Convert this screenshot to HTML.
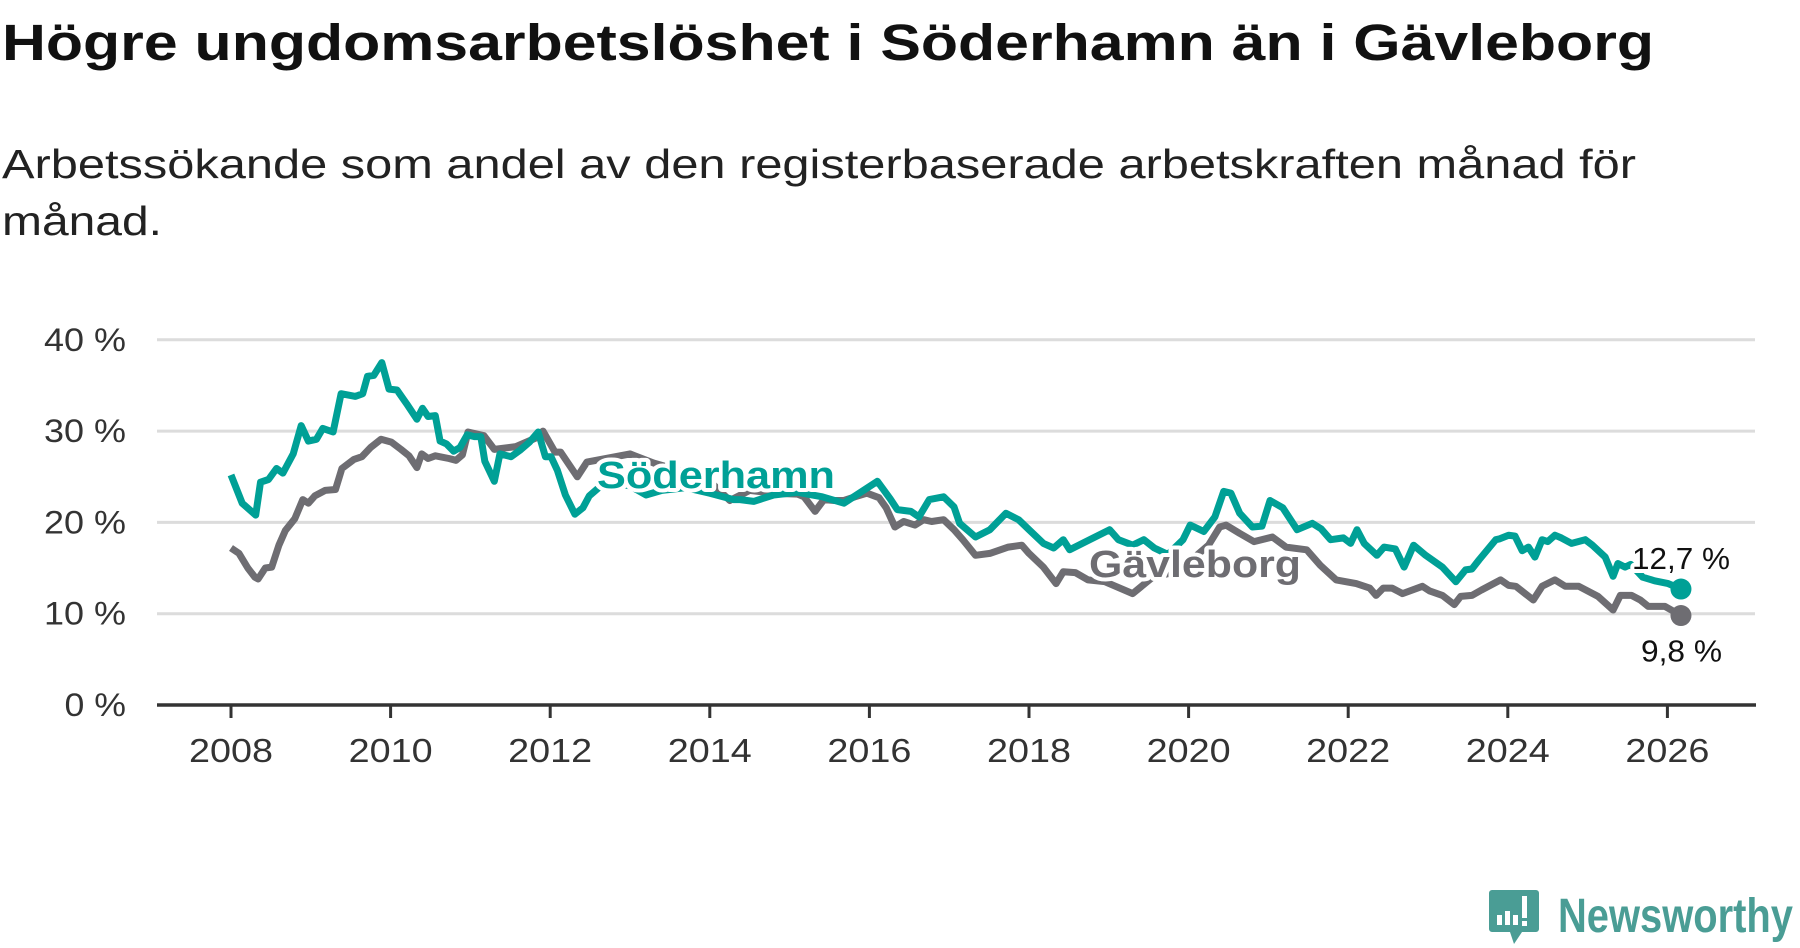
<!DOCTYPE html>
<html><head><meta charset="utf-8">
<style>
html,body{margin:0;padding:0;background:#fff;}
svg{display:block;font-family:"Liberation Sans","DejaVu Sans",sans-serif;}
</style></head>
<body>
<svg id="chart" width="1800" height="948" viewBox="0 0 1800 948" xmlns="http://www.w3.org/2000/svg">
<text x="2" y="60" font-size="51" font-weight="bold" fill="#111" textLength="1652" lengthAdjust="spacingAndGlyphs">Högre ungdomsarbetslöshet i Söderhamn än i Gävleborg</text>
<text x="2" y="178" font-size="41" fill="#222" textLength="1634" lengthAdjust="spacingAndGlyphs">Arbetssökande som andel av den registerbaserade arbetskraften månad för</text>
<text x="2" y="235" font-size="41" fill="#222" textLength="160" lengthAdjust="spacingAndGlyphs">månad.</text>
<g id="grid"></g>
<g id="yticks"></g>
<g id="xticks"></g>
<g id="series"></g>
<g id="labels"></g>
<g>
  <path d="M1492 890 h44 a3 3 0 0 1 3 3 v36 a3 3 0 0 1 -3 3 h-14 l-8 12 l-4 -12 h-18 a3 3 0 0 1 -3 -3 v-36 a3 3 0 0 1 3 -3z" fill="#4a9d95"/>
  <rect x="1497" y="915" width="5" height="10" fill="#fff"/>
  <rect x="1505" y="911" width="5" height="14" fill="#fff"/>
  <rect x="1513" y="915" width="5" height="10" fill="#fff"/>
  <rect x="1522" y="896" width="5" height="22" fill="#fff"/>
  <rect x="1522" y="921" width="5" height="5" fill="#fff"/>
  <text x="1558" y="932" font-size="48" font-weight="bold" fill="#4a9d95" textLength="235" lengthAdjust="spacingAndGlyphs">Newsworthy</text>
</g>
</svg>
<script>
const yTicks = [0, 10, 20, 30, 40];
const yTickLabels = ["0 %", "10 %", "20 %", "30 %", "40 %"];
const xTicks = [2008, 2010, 2012, 2014, 2016, 2018, 2020, 2022, 2024, 2026];
const sodDates = [2008.00,2008.14,2008.31,2008.37,2008.47,2008.57,2008.65,2008.78,2008.88,2008.97,2009.07,2009.15,2009.28,2009.38,2009.56,2009.65,2009.71,2009.79,2009.89,2009.98,2010.08,2010.20,2010.33,2010.40,2010.47,2010.56,2010.62,2010.70,2010.79,2010.87,2010.96,2011.05,2011.13,2011.18,2011.30,2011.37,2011.51,2011.62,2011.74,2011.85,2011.94,2012.01,2012.09,2012.19,2012.31,2012.41,2012.49,2012.70,2013.00,2013.20,2013.40,2013.70,2014.00,2014.30,2014.38,2014.55,2014.80,2015.10,2015.41,2015.68,2016.10,2016.26,2016.35,2016.52,2016.62,2016.75,2016.93,2017.06,2017.13,2017.33,2017.51,2017.71,2017.87,2018.00,2018.18,2018.31,2018.43,2018.51,2018.76,2019.01,2019.12,2019.30,2019.44,2019.57,2019.74,2019.93,2020.02,2020.19,2020.33,2020.44,2020.53,2020.64,2020.80,2020.92,2021.02,2021.18,2021.36,2021.55,2021.66,2021.78,2021.94,2022.03,2022.11,2022.20,2022.36,2022.45,2022.59,2022.70,2022.82,2022.97,2023.18,2023.35,2023.47,2023.55,2023.64,2023.85,2023.90,2024.01,2024.09,2024.18,2024.26,2024.34,2024.43,2024.50,2024.59,2024.67,2024.80,2024.97,2025.06,2025.22,2025.32,2025.38,2025.47,2025.54,2025.69,2025.84,2026.01,2026.17];
const sodValues = [25.2,22.1,20.8,24.4,24.7,25.9,25.4,27.5,30.6,28.9,29.1,30.3,29.9,34.1,33.8,34.1,36.0,36.1,37.5,34.6,34.5,33.0,31.3,32.5,31.6,31.7,28.9,28.6,27.8,28.2,29.6,29.4,29.4,26.7,24.5,27.5,27.2,27.9,28.8,29.9,27.2,27.2,25.7,23.0,20.9,21.6,22.9,24.5,24.0,23.0,23.5,23.8,23.2,22.5,22.5,22.3,23.0,23.3,22.8,22.1,24.5,22.6,21.4,21.2,20.6,22.5,22.8,21.7,19.9,18.4,19.2,21.0,20.3,19.2,17.7,17.2,18.1,17.0,18.1,19.2,18.1,17.5,18.1,17.2,16.5,18.1,19.7,19.0,20.6,23.4,23.2,21.0,19.5,19.6,22.4,21.6,19.2,19.9,19.3,18.1,18.3,17.7,19.2,17.7,16.4,17.3,17.1,15.1,17.5,16.4,15.1,13.5,14.8,14.9,15.9,18.1,18.2,18.6,18.5,16.9,17.3,16.2,18.1,17.9,18.6,18.3,17.7,18.1,17.5,16.2,14.1,15.5,15.1,15.4,14.0,13.6,13.3,12.7];
const gavDates = [2008.00,2008.10,2008.21,2008.30,2008.34,2008.43,2008.51,2008.60,2008.68,2008.80,2008.90,2008.97,2009.05,2009.18,2009.31,2009.39,2009.54,2009.64,2009.75,2009.88,2010.01,2010.13,2010.23,2010.33,2010.39,2010.47,2010.56,2010.73,2010.82,2010.90,2010.97,2011.17,2011.30,2011.57,2011.81,2011.91,2012.06,2012.13,2012.34,2012.46,2012.70,2013.00,2013.30,2013.70,2014.00,2014.25,2014.50,2014.80,2015.10,2015.18,2015.32,2015.43,2015.56,2015.68,2015.82,2015.97,2016.12,2016.21,2016.32,2016.43,2016.57,2016.68,2016.78,2016.93,2017.06,2017.17,2017.33,2017.51,2017.74,2017.91,2018.00,2018.18,2018.34,2018.43,2018.58,2018.74,2018.95,2019.30,2019.55,2019.80,2020.05,2020.25,2020.39,2020.47,2020.64,2020.82,2021.05,2021.22,2021.48,2021.65,2021.85,2022.10,2022.27,2022.35,2022.44,2022.55,2022.68,2022.93,2023.02,2023.18,2023.33,2023.41,2023.55,2023.67,2023.91,2024.01,2024.10,2024.32,2024.43,2024.59,2024.72,2024.89,2025.13,2025.32,2025.41,2025.55,2025.66,2025.76,2025.97,2026.17];
const gavValues = [17.2,16.6,15.0,14.0,13.8,15.0,15.1,17.5,19.1,20.4,22.5,22.1,22.9,23.5,23.6,25.9,26.9,27.2,28.2,29.1,28.8,28.0,27.3,26.0,27.5,27.0,27.3,27.0,26.8,27.4,29.9,29.5,28.0,28.3,29.2,30.0,27.7,27.7,25.0,26.6,27.0,27.5,26.5,25.5,24.5,22.4,23.5,23.2,23.1,22.8,21.2,22.5,22.4,22.4,22.8,23.2,22.7,21.6,19.5,20.1,19.7,20.3,20.1,20.3,19.2,18.1,16.4,16.6,17.3,17.5,16.6,15.1,13.3,14.6,14.5,13.7,13.5,12.2,14.0,14.5,16.0,17.5,19.5,19.7,18.8,17.9,18.4,17.3,17.0,15.3,13.7,13.3,12.8,12.0,12.8,12.8,12.2,13.0,12.5,12.0,11.0,11.9,12.0,12.6,13.7,13.1,13.0,11.5,13.0,13.7,13.0,13.0,11.9,10.4,12.0,12.0,11.5,10.8,10.8,9.8];
const endLabels = ["12,7 %", "9,8 %"];

const NS = "http://www.w3.org/2000/svg";
const X0 = 231, XPER = 79.8, Y0 = 705, YPER = 9.13;
function xs(t){ return X0 + (t - 2008) * XPER; }
function ys(v){ return Y0 - v * YPER; }
function mk(tag, attrs, parent){
  const e = document.createElementNS(NS, tag);
  for (const k in attrs) e.setAttribute(k, attrs[k]);
  parent.appendChild(e);
  return e;
}
const grid = document.getElementById('grid');
const yt = document.getElementById('yticks');
yTicks.forEach((v, i) => {
  if (v > 0) {
    const g = mk('line', {x1:157, x2:1755, y1:ys(v), y2:ys(v), stroke:'#dcdcdc', 'stroke-width':3}, grid);
    
    
  }
  const lbl = yTickLabels[i];
  const t = mk('text', {x:126, y:ys(v)+11, 'text-anchor':'end', 'font-size':32, fill:'#333', textLength: lbl.length * 20.5, lengthAdjust:'spacingAndGlyphs'}, yt);
  t.textContent = lbl;
  
  
});
const xt = document.getElementById('xticks');
const ax = mk('line', {x1:157, x2:1756, y1:Y0, y2:Y0, stroke:'#333', 'stroke-width':3.5}, xt);


xTicks.forEach(yr => {
  const l = mk('line', {x1:xs(yr), x2:xs(yr), y1:Y0, y2:Y0+13, stroke:'#333', 'stroke-width':3}, xt);
  
  
  const t = mk('text', {x:xs(yr), y:762, 'text-anchor':'middle', 'font-size':33, fill:'#333', textLength:84, lengthAdjust:'spacingAndGlyphs'}, xt);
  t.textContent = String(yr);
  
  
});
const ser = document.getElementById('series');
function drawLine(dates, vals, color, name){
  const d = dates.map((t, i) => (i ? 'L' : 'M') + xs(t).toFixed(1) + ' ' + ys(vals[i]).toFixed(1)).join(' ');
  const p = mk('path', {d:d, fill:'none', stroke:color, 'stroke-width':7, 'stroke-linejoin':'round'}, ser);
  
  
  const n = dates.length - 1;
  const c = mk('circle', {cx:xs(dates[n]), cy:ys(vals[n]), r:10.5, fill:color}, ser);
  
  
}
drawLine(gavDates, gavValues, '#6e6d72', 'gavleborg');
drawLine(sodDates, sodValues, '#00a096', 'soderhamn');
const lab = document.getElementById('labels');
function label(x, y, txt, color, w, name, bold, size){
  const t = mk('text', {x:x, y:y, 'font-size':size, 'font-weight':bold?'bold':'normal', fill:color, stroke:'#fff', 'stroke-width':8, 'stroke-linejoin':'round', 'paint-order':'stroke', textLength:w, lengthAdjust:'spacingAndGlyphs'}, lab);
  t.textContent = txt;
  
  
}
label(597, 488, 'Söderhamn', '#00a096', 238, 'soderhamn-label', true, 38);
label(1089, 577, 'Gävleborg', '#6e6d72', 212, 'gavleborg-label', true, 38);
const n1 = sodDates.length - 1, n2 = gavDates.length - 1;
label(1632, ys(sodValues[n1]) - 20, endLabels[0], '#111', 98, 'soderhamn-end-value', false, 31);
label(1641, ys(gavValues[n2]) + 46, endLabels[1], '#111', 81, 'gavleborg-end-value', false, 31);
</script>
</body></html>
